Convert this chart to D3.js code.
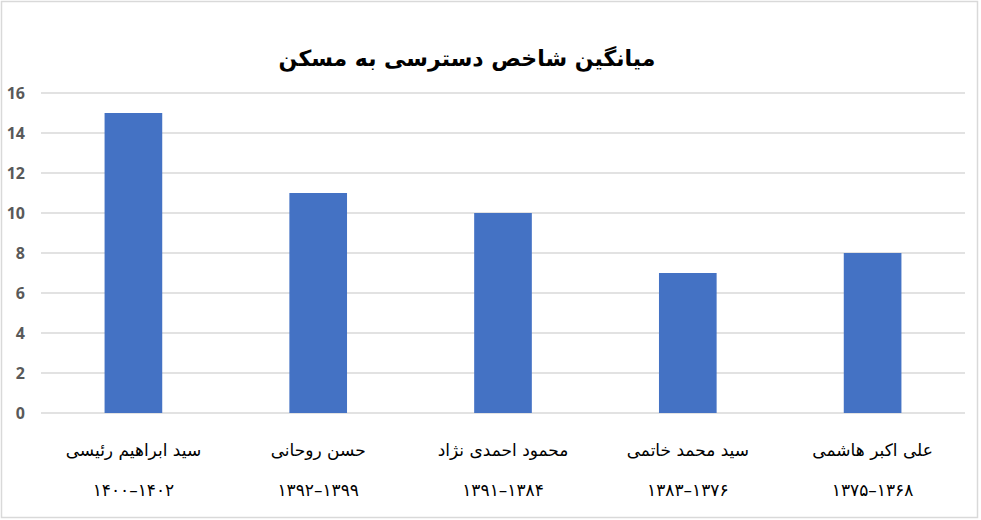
<!DOCTYPE html>
<html>
<head>
<meta charset="utf-8">
<script src="https://cdn.jsdelivr.net/npm/d3@7"></script>
<style>
  body { margin: 0; background: #fff; }
  svg { display: block; }
</style>
</head>
<body>
<svg id="chart" width="981" height="520"></svg>
<script>
// داده‌ها
var names = ["سید ابراهیم رئیسی", "حسن روحانی", "محمود احمدی نژاد", "سید محمد خاتمی", "علی اکبر هاشمی"];
var periods = ["۱۴۰۰–۱۴۰۲", "۱۳۹۲–۱۳۹۹", "۱۳۹۱–۱۳۸۴", "۱۳۸۳–۱۳۷۶", "۱۳۷۵–۱۳۶۸"];
var values = [15, 11, 10, 7, 8];
var yTicks = [0, 2, 4, 6, 8, 10, 12, 14, 16];
var title = "میانگین شاخص دسترسی به مسکن";

var svg = d3.select("#chart");
var W = 981, H = 520;

// chart border
svg.append("rect")
  .attr("x", 1.5).attr("y", 1.5)
  .attr("width", W - 5).attr("height", H - 4)
  .attr("fill", "#fff")
  .attr("stroke", "#d9d9d9")
  .attr("stroke-width", 1.5);

var x = d3.scaleBand()
  .domain(d3.range(names.length))
  .range([41, 965])
  .paddingInner(0.688)
  .paddingOuter(0.344);

var y = d3.scaleLinear()
  .domain([0, 16])
  .range([413, 93]);

// gridlines
svg.append("g")
  .selectAll("line")
  .data(yTicks)
  .join("line")
  .attr("x1", 41).attr("x2", 965)
  .attr("y1", function(d){ return y(d); })
  .attr("y2", function(d){ return y(d); })
  .attr("stroke", "#d9d9d9")
  .attr("stroke-width", 1.5);

// y axis labels
var yAxis = d3.axisLeft(y).tickValues(yTicks).tickSize(0).tickPadding(0);
svg.append("g")
  .attr("transform", "translate(25,0)")
  .call(yAxis)
  .call(function(g){ g.select(".domain").remove(); })
  .selectAll("text")
  .attr("fill", "#595959")
  .style("font-family", "'Open Sans', sans-serif")
  .style("font-weight", "700")
  .style("font-size", "16px");

// bars
svg.append("g")
  .selectAll("rect")
  .data(values)
  .join("rect")
  .attr("x", function(d, i){ return x(i); })
  .attr("width", x.bandwidth())
  .attr("y", function(d){ return y(d); })
  .attr("height", function(d){ return y(0) - y(d); })
  .attr("fill", "#4472c4");

// category labels (two lines)
var cat = svg.append("g")
  .selectAll("g")
  .data(names)
  .join("g")
  .attr("transform", function(d, i){ return "translate(" + (x(i) + x.bandwidth() / 2) + ",0)"; });

cat.append("text")
  .attr("y", 456)
  .attr("text-anchor", "middle")
  .attr("direction", "rtl")
  .style("font-family", "'DejaVu Sans', sans-serif")
  .style("font-size", "17px")
  .attr("fill", "#000")
  .text(function(d){ return d; });

cat.append("text")
  .attr("y", 496)
  .attr("text-anchor", "middle")
  .attr("direction", "ltr")
  .attr("unicode-bidi", "bidi-override")
  .style("font-family", "'DejaVu Sans', sans-serif")
  .style("font-size", "17px")
  .attr("fill", "#000")
  .text(function(d, i){ return periods[i]; });

// title
svg.append("text")
  .attr("x", 467)
  .attr("y", 66)
  .attr("text-anchor", "middle")
  .attr("direction", "rtl")
  .style("font-family", "'DejaVu Sans', sans-serif")
  .style("font-weight", "bold")
  .style("font-size", "22px")
  .attr("fill", "#000")
  .text(title);
</script>
</body>
</html>
